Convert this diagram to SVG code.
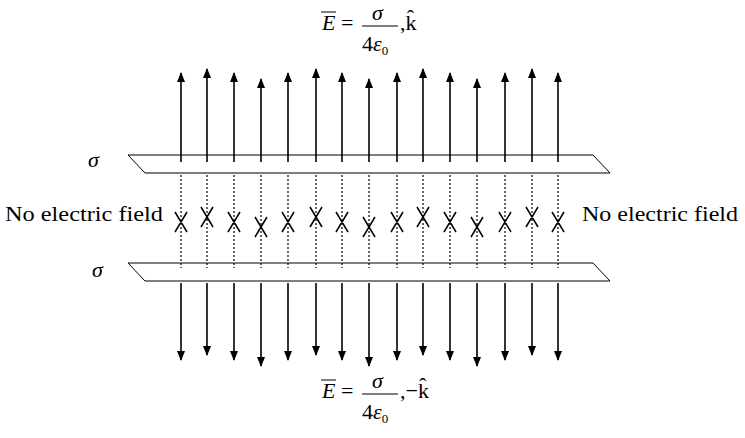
<svg xmlns="http://www.w3.org/2000/svg" width="745" height="438" viewBox="0 0 745 438">
<style>
.t{font-family:'Liberation Serif','Times New Roman','DejaVu Serif',serif;font-size:22px;fill:#000}
.i{font-style:italic}
.ln{stroke:#000;stroke-width:1.6;fill:none}
.pl{stroke:#000;stroke-width:1;fill:none}
.cx{stroke:#000;stroke-width:1.5;fill:none}
.dt{stroke:#000;stroke-width:1.2;stroke-dasharray:2 2;fill:none}
</style>
<defs><marker id="a" markerWidth="10" markerHeight="8" refX="9" refY="4" orient="auto" markerUnits="userSpaceOnUse" viewBox="0 0 10 8"><path d="M0,0 L10,4 L0,8 Z" fill="#000"/></marker></defs>
<rect width="745" height="438" fill="#fff"/>
<g id="plate-top"><path class="pl" d="M128,155 H593 L610,173 H145 Z" fill="#fff"/><text class="t i" x="88" y="167">σ</text></g>
<g id="plate-bottom"><path class="pl" d="M128,263 H593 L610,281 H145 Z" fill="#fff"/><text class="t i" x="92" y="277">σ</text></g>
<g id="labels">
<text class="t" x="5" y="221" textLength="158" lengthAdjust="spacingAndGlyphs">No electric field</text>
<text class="t" x="582" y="221" textLength="156" lengthAdjust="spacingAndGlyphs">No electric field</text>
<g id="eq-top"><text class="t i" x="322" y="30">E</text><line x1="321" y1="12" x2="336" y2="12" stroke="#000"/><text class="t" x="341" y="30">=</text><text class="t i" x="372" y="20">σ</text><line x1="362" y1="26" x2="398" y2="26" stroke="#000"/><text class="t" x="362" y="51">4<tspan class="i">ε</tspan><tspan font-size="13" dy="4">0</tspan></text><text class="t" x="400" y="30">,k̂</text></g>
<g id="eq-bot"><text class="t i" x="322" y="398">E</text><line x1="321" y1="380" x2="336" y2="380" stroke="#000"/><text class="t" x="341" y="398">=</text><text class="t i" x="372" y="388">σ</text><line x1="362" y1="394" x2="398" y2="394" stroke="#000"/><text class="t" x="362" y="419">4<tspan class="i">ε</tspan><tspan font-size="13" dy="4">0</tspan></text><text class="t" x="400" y="398">,−k̂</text></g>
</g>
<g id="connectors">
<g id="dots">
<path class="dt" d="M181,175V268M207,175V268M234,175V268M261,175V268M288,175V268M316,175V268M342,175V268M369,175V268M397,175V268M423,175V268M450,175V268M477,175V268M505,175V268M532,175V268M558,175V268"/>
</g>
<g id="up">
<path class="ln" marker-end="url(#a)" d="M181,162V73"/><path class="ln" marker-end="url(#a)" d="M207,162V69"/><path class="ln" marker-end="url(#a)" d="M234,162V73"/><path class="ln" marker-end="url(#a)" d="M261,162V79"/><path class="ln" marker-end="url(#a)" d="M288,162V73"/><path class="ln" marker-end="url(#a)" d="M316,162V69"/><path class="ln" marker-end="url(#a)" d="M342,162V73"/><path class="ln" marker-end="url(#a)" d="M369,162V79"/><path class="ln" marker-end="url(#a)" d="M397,162V73"/><path class="ln" marker-end="url(#a)" d="M423,162V69"/><path class="ln" marker-end="url(#a)" d="M450,162V73"/><path class="ln" marker-end="url(#a)" d="M477,162V79"/><path class="ln" marker-end="url(#a)" d="M505,162V73"/><path class="ln" marker-end="url(#a)" d="M532,162V69"/><path class="ln" marker-end="url(#a)" d="M558,162V73"/>
</g>
<g id="down">
<path class="ln" marker-end="url(#a)" d="M181,283V360"/><path class="ln" marker-end="url(#a)" d="M207,283V355"/><path class="ln" marker-end="url(#a)" d="M234,283V360"/><path class="ln" marker-end="url(#a)" d="M261,283V366"/><path class="ln" marker-end="url(#a)" d="M288,283V360"/><path class="ln" marker-end="url(#a)" d="M316,283V355"/><path class="ln" marker-end="url(#a)" d="M342,283V360"/><path class="ln" marker-end="url(#a)" d="M369,283V366"/><path class="ln" marker-end="url(#a)" d="M397,283V360"/><path class="ln" marker-end="url(#a)" d="M423,283V355"/><path class="ln" marker-end="url(#a)" d="M450,283V360"/><path class="ln" marker-end="url(#a)" d="M477,283V366"/><path class="ln" marker-end="url(#a)" d="M505,283V360"/><path class="ln" marker-end="url(#a)" d="M532,283V355"/><path class="ln" marker-end="url(#a)" d="M558,283V360"/>
</g>
<g id="crosses">
<path class="cx" d="M175,212L187,232M187,212L175,232M201,207L213,227M213,207L201,227M228,212L240,232M240,212L228,232M255,217L267,237M267,217L255,237M282,212L294,232M294,212L282,232M310,207L322,227M322,207L310,227M336,212L348,232M348,212L336,232M363,217L375,237M375,217L363,237M391,212L403,232M403,212L391,232M417,207L429,227M429,207L417,227M444,212L456,232M456,212L444,232M471,217L483,237M483,217L471,237M499,212L511,232M511,212L499,232M526,207L538,227M538,207L526,227M552,212L564,232M564,212L552,232"/>
</g>
</g>
</svg>
